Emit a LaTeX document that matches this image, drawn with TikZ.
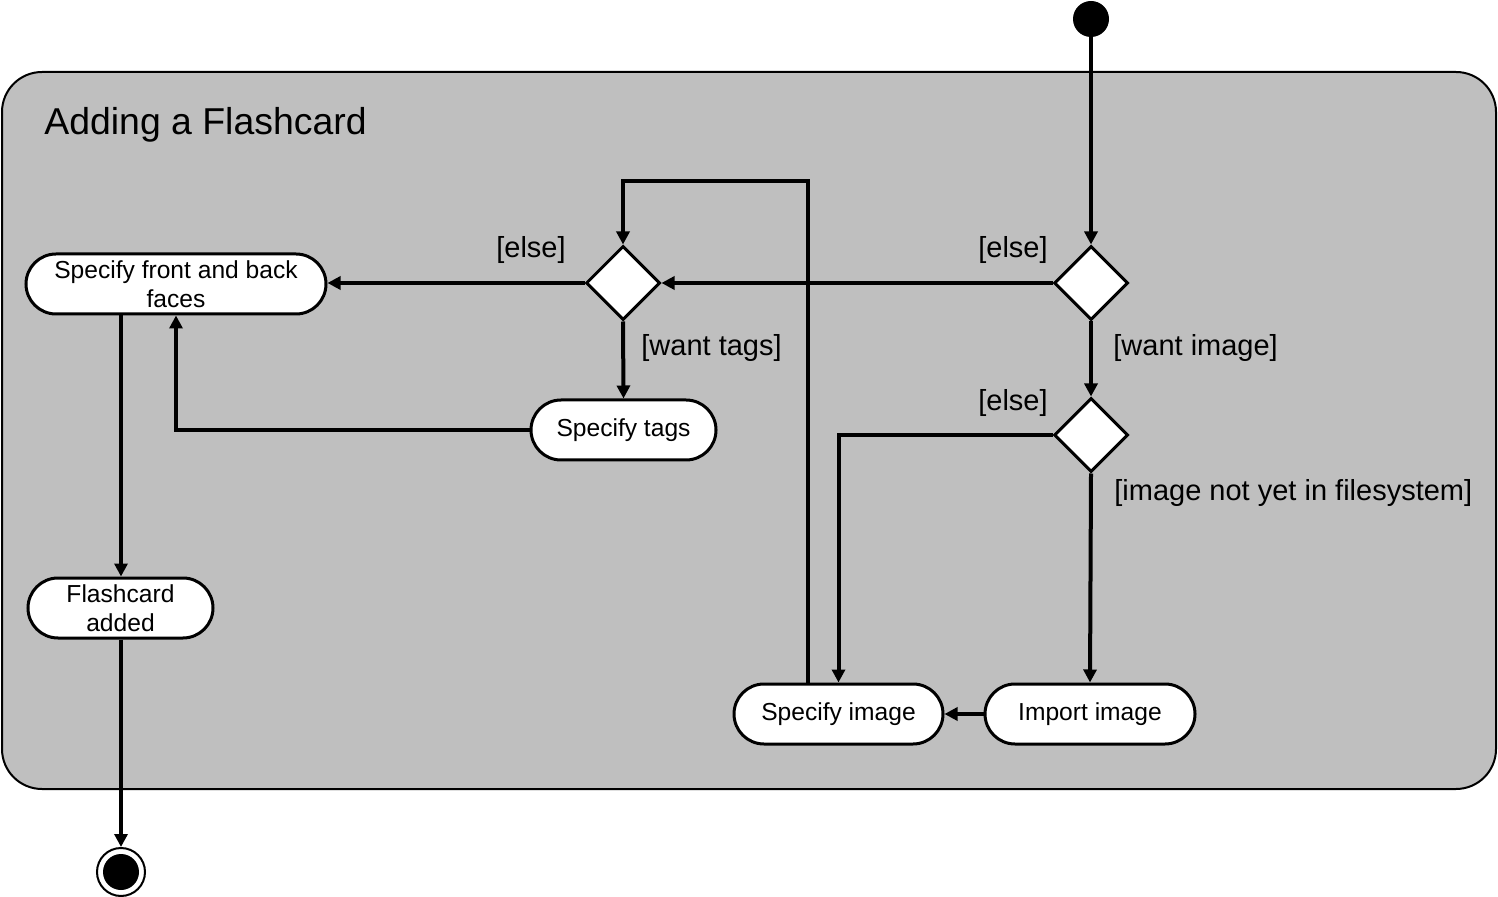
\documentclass[tikz,border=0pt]{standalone}
\usepackage{fontspec}
\setmainfont{Liberation Sans}
\usetikzlibrary{shapes.geometric,shapes.misc,arrows.meta,calc}
\begin{document}
\begin{tikzpicture}[x=0.5pt,y=-0.5pt,
  actbox/.style={rounded rectangle,draw=black,fill=white,line width=1.5pt,minimum height=30pt,inner sep=0pt,font=\fontsize{12.3}{14.5}\selectfont,align=center},
  decision/.style={diamond,draw=black,fill=white,line width=1.5pt,minimum width=37pt,minimum height=37pt,inner sep=0pt},
  arr/.style={line width=2pt,-{Triangle[length=6.5pt,width=6.5pt]}},
  guard/.style={inner sep=0pt,font=\fontsize{14.5}{16}\selectfont},
]
\useasboundingbox (0,0) rectangle (1498,897);
% container
\draw[line width=1pt,fill=black!25,rounded corners=20pt] (2,72) rectangle (1496,789);
\node[anchor=base west,inner sep=0pt,font=\fontsize{18.7}{22}\selectfont] (title) at (44,135) {Adding a Flashcard};
% nodes
\node[circle,fill=black,minimum size=18pt,inner sep=0pt] (start) at (1091,19) {};
\node[decision] (d1) at (1091,283) {};
\node[decision] (d2) at (623,283) {};
\node[decision] (d3) at (1091,435) {};
\node[actbox,minimum width=150pt] (sf) at (176,284) {Specify front and back\\faces};
\node[actbox,minimum width=92.5pt] (fa) at (120.5,608) {Flashcard\\added};
\node[actbox,minimum width=92.5pt] (st) at (623.5,430) {Specify tags};
\node[actbox,minimum width=104.5pt] (si) at (838.5,714) {Specify image};
\node[actbox,minimum width=105pt] (ii) at (1090,714) {Import image};
\node[circle,draw=black,fill=white,line width=1pt,minimum size=24pt,inner sep=0pt] (end) at (121,872) {};
\fill[black] (end.center) circle (9pt);
\coordinate (loopx) at (808,181);
% connectors
\draw[arr] (start) -- (d1.north);
\draw[arr] (d1.west) -- (d2.east);
\draw[arr] (d1.south) -- (d3.north);
\draw[arr] (d3.west) -| (si.north);
\draw[arr] (d3.south) -- (ii.north);
\draw[arr] (ii.west) -- (si.east);
\draw[arr] (si.north -| loopx) |- (loopx) -| (d2.north);
\draw[arr] (d2.west) -- (d2.west -| sf.east);
\draw[arr] (d2.south) -- (st.north);
\draw[arr] (st.west) -| (sf.south);
\draw[arr] (sf.south -| end.north) -- (fa.north -| end.north);
\draw[arr] (fa.south -| end.north) -- (end.north);
% guards
\node[guard] (g1) at (531,250) {[else]};
\node[guard] (g2) at (1013,250) {[else]};
\node[guard] (g3) at (1013,403) {[else]};
\node[guard,anchor=west] (g4) at (641,348) {[want tags]};
\node[guard,anchor=west] (g5) at (1113,348) {[want image]};
\node[guard,anchor=west] (g6) at (1114,493) {[image not yet in filesystem]};
\end{tikzpicture}
\end{document}
